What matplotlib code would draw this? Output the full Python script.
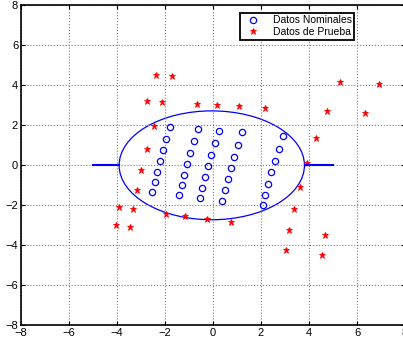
import matplotlib
matplotlib.use('Agg')
import matplotlib.pyplot as plt
from matplotlib.patches import Ellipse

plt.rcParams['font.family'] = ['Liberation Sans', 'DejaVu Sans']

# nominal data (blue circles), read column by column
nom_x = [-1.79, -1.96, -2.10, -2.21, -2.32, -2.43, -2.53,
         -0.64, -0.81, -0.96, -1.08, -1.21, -1.31, -1.40,
         0.24, 0.07, -0.08, -0.22, -0.35, -0.46, -0.56,
         1.21, 1.03, 0.89, 0.74, 0.61, 0.50, 0.39,
         2.93, 2.75, 2.57, 2.43, 2.28, 2.17, 2.07]
nom_y = [1.88, 1.30, 0.73, 0.18, -0.35, -0.87, -1.37,
         1.77, 1.18, 0.60, 0.05, -0.48, -1.00, -1.52,
         1.68, 1.10, 0.52, -0.03, -0.58, -1.13, -1.65,
         1.62, 1.00, 0.42, -0.17, -0.72, -1.25, -1.78,
         1.45, 0.82, 0.22, -0.35, -0.93, -1.48, -2.02]

# test data (red stars)
test_x = [-2.36, -1.72, -2.75, -2.13, -0.68, 0.17, 1.10, 2.17, 5.29, 6.92,
          4.74, 6.33, -2.46, 4.28, -2.75, -2.99, 3.92, -3.18, 3.61, -3.92,
          -3.33, -1.96, -1.15, -0.26, 0.74, 3.36, -4.06, -3.44, 3.18, 3.04,
          4.68, 4.54]
test_y = [4.47, 4.43, 3.20, 3.15, 3.05, 3.00, 2.92, 2.85, 4.13, 4.05,
          2.67, 2.57, 1.95, 1.33, 0.80, -0.27, 0.10, -1.27, -1.10, -2.12,
          -2.22, -2.43, -2.55, -2.70, -2.87, -2.20, -3.02, -3.12, -3.25, -4.23,
          -3.48, -4.50]

# decision boundary
ell_center = (-0.05, -0.02)
ell_width = 7.72
ell_height = 5.44
left_seg_x = [-5.0, -3.9]
right_seg_x = [3.85, 5.0]
seg_y = [0, 0]

fig = plt.figure(figsize=(4.03, 3.45), dpi=100)
ax = fig.add_axes([0.052, 0.058, 0.953, 0.928])

ax.plot(nom_x, nom_y, 'o', mfc='none', mec='blue', ms=4.5, mew=0.9,
        label='Datos Nominales')
ax.plot(test_x, test_y, '*', color='red', ms=4.5, mew=0.6,
        label='Datos de Prueba')
ax.add_patch(Ellipse(ell_center, ell_width, ell_height, fill=False,
                     ec='blue', lw=0.9))
ax.plot(left_seg_x, seg_y, color='blue', lw=1.5)
ax.plot(right_seg_x, seg_y, color='blue', lw=1.5)

ax.set_xlim(-8, 8)
ax.set_ylim(-8, 8)
ax.set_xticks(range(-8, 9, 2))
ax.set_yticks(range(-8, 9, 2))
ax.grid(True, linestyle=':', color='gray', lw=0.8)
ax.tick_params(direction='in', top=True, right=True, labelsize=8, length=3,
               pad=2)
for s in ax.spines.values():
    s.set_linewidth(1.2)

leg = ax.legend(loc='upper left', bbox_to_anchor=(0.57, 0.975), fontsize=7.5,
                fancybox=False, framealpha=1, edgecolor='black',
                borderpad=0.25, handletextpad=0.9, labelspacing=0.15,
                handlelength=2.0, borderaxespad=0)
leg.get_frame().set_linewidth(1.3)

fig.savefig('out.png', dpi=100)
